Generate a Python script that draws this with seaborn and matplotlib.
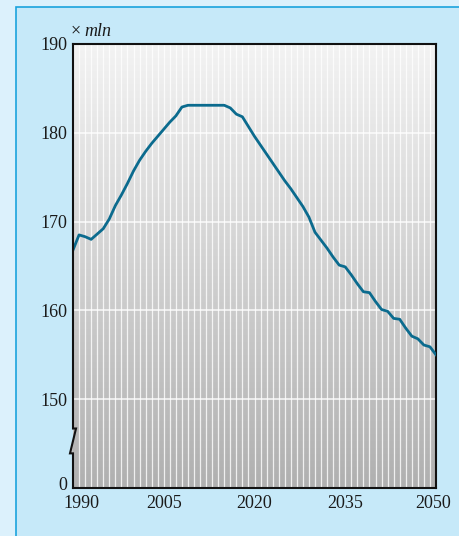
import numpy as np
import matplotlib
matplotlib.use("Agg")
import matplotlib.pyplot as plt
import matplotlib.transforms as mtransforms
from matplotlib.patches import Rectangle, Polygon
import seaborn as sns

# population, millions
years = list(range(1990, 2051))
population = [
    166.8, 168.5, 168.3, 168.0, 168.6, 169.2, 170.3, 171.8, 173.0, 174.3,
    175.7, 176.9, 177.9, 178.8, 179.6, 180.4, 181.2, 181.9, 182.9, 183.1,
    183.1, 183.1, 183.1, 183.1, 183.1, 183.1, 182.8, 182.1, 181.8, 180.7,
    179.6, 178.6, 177.6, 176.6, 175.6, 174.6, 173.7, 172.7, 171.7, 170.5,
    168.8, 167.9, 167.0, 166.0, 165.1, 164.9, 164.0, 163.0, 162.1, 162.0,
    161.0, 160.1, 159.9, 159.1, 159.0, 158.0, 157.1, 156.8, 156.1, 155.9,
    155.0,
]
xticks = [1990, 2005, 2020, 2035, 2050]
yticks = [140, 150, 160, 170, 180, 190]
ytick_labels = ["0", "150", "160", "170", "180", "190"]
unit_label = "mln"

plt.rcParams['font.family'] = ['Liberation Serif', 'DejaVu Serif']

fig = plt.figure(figsize=(4.59, 5.36), dpi=100)
fig.patch.set_facecolor("#dcf1fc")

# inner light-blue panel with border
W, H = 459, 536
panel = Rectangle((16 / W, -0.01), 1.0, 1.01 - 7 / H, transform=fig.transFigure,
                  facecolor="#c6e9f9", edgecolor="#1ba3dd", linewidth=1.2, zorder=-10)
fig.add_artist(panel)

ax = fig.add_axes([73 / W, 1 - 488 / H, 363 / W, 444 / H])
ax.set_zorder(1)

# grey vertical gradient
grad = np.linspace(0, 1, 256).reshape(-1, 1)
cmap = matplotlib.colors.LinearSegmentedColormap.from_list("g", ["#f3f3f3", "#b0b0b0"])
ax.imshow(grad, extent=[1990, 2050, 140, 190], aspect="auto", cmap=cmap,
          origin="upper", zorder=0)

# white yearly lines and horizontal grid
for yr in range(1991, 2050):
    ax.axvline(yr, color="white", linewidth=0.9, alpha=0.8, zorder=1)
for yv in [150, 160, 170, 180]:
    ax.axhline(yv, color="white", linewidth=1.1, alpha=0.9, zorder=1)

sns.lineplot(x=years, y=population, ax=ax, color="#0b6b8e", linewidth=2.0, zorder=3)

ax.set_xlim(1990, 2050)
ax.set_ylim(140, 190)
ax.set_xticks(xticks)
ax.set_xticklabels([str(x) for x in xticks])
ax.set_yticks(yticks)
ax.set_yticklabels(ytick_labels)
ax.tick_params(length=0, labelsize=13, colors="#1a1a1a")
ax.tick_params(axis="y", pad=4)
ax.tick_params(axis="x", pad=5)
ax.set_xlabel("")
ax.set_ylabel("")

# nudge end labels inward
def nudge(label, dx_px, dy_px):
    label.set_transform(label.get_transform() +
                        mtransforms.ScaledTranslation(dx_px / 100, dy_px / 100, fig.dpi_scale_trans))

xlabels = ax.get_xticklabels()
nudge(xlabels[0], 8, 0)
nudge(xlabels[-1], -2.5, 0)
nudge(ax.get_yticklabels()[0], 0, 5)

for s in ["top", "right", "bottom"]:
    ax.spines[s].set_color("#111111")
    ax.spines[s].set_linewidth(1.5)
ax.spines["left"].set_visible(False)

# left spine with axis break
tr = ax.get_yaxis_transform()
dx = 1 / 363
ax.add_patch(Polygon([(0, 146.7), (3 * dx, 146.7), (-3 * dx, 143.9), (0, 143.9)],
                     closed=True, transform=tr, facecolor="#c0c0c0",
                     edgecolor="none", clip_on=False, zorder=4))
ax.plot([0, 0, 3 * dx, -3 * dx, 0, 0], [190, 146.7, 146.7, 143.9, 143.9, 140],
        transform=tr, color="#111111", linewidth=1.5, clip_on=False, zorder=5,
        solid_joinstyle="miter")

# unit label
fig.text(71 / W, 1 - 31 / H, "\u00d7", fontsize=13, ha="left", va="center", color="#1a1a1a")
fig.text(84 / W, 1 - 31 / H, unit_label, fontsize=13, style="italic",
         ha="left", va="center", color="#1a1a1a")

fig.savefig("out.png", dpi=100, facecolor=fig.get_facecolor())
